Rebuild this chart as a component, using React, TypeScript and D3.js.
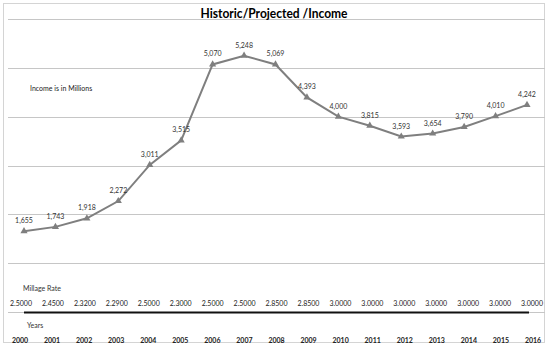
import React from "react";
import * as d3 from "d3";

const years = ["2000","2001","2002","2003","2004","2005","2006","2007","2008","2009","2010","2011","2012","2013","2014","2015","2016"];
const income = [1655,1743,1918,2272,3011,3515,5070,5248,5069,4393,4000,3815,3593,3654,3790,4010,4242];
const millage = ["2.5000","2.4500","2.3200","2.2900","2.5000","2.3000","2.5000","2.5000","2.8500","2.8500","3.0000","3.0000","3.0000","3.0000","3.0000","3.0000","3.0000"];
const gridTicks = [0,1000,2000,3000,4000,5000,6000];

const W = 548, H = 346;
const FONT = "Lato, 'Open Sans', sans-serif";

export default function App() {
  const x = d3.scalePoint<string>().domain(years).range([24, 527]);
  const xm = d3.scalePoint<string>().domain(years).range([21, 532]);
  const xy = d3.scalePoint<string>().domain(years).range([20, 533]);
  const y = d3.scaleLinear().domain([0, 6000]).range([312, 19]);
  const line = d3.line<number>().x((_, i) => x(years[i])!).y(d => y(d));
  const tri = d3.symbol().type(d3.symbolTriangle).size(22)();
  const fmt = d3.format(",");

  return (
    <svg width={W} height={H} style={{ position: "absolute", left: 0, top: 0, background: "#fff" }}>
      <rect x={3.5} y={3.5} width={541} height={339} fill="#fff" stroke="#d4d4d4" strokeWidth={1} />
      {gridTicks.map(t => (
        <line key={t} x1={8} x2={545} y1={Math.round(y(t)) + 0.5} y2={Math.round(y(t)) + 0.5} stroke="#c6c6c6" strokeWidth={1} />
      ))}
      <line x1={24} x2={529} y1={y(0) + 0.5} y2={y(0) + 0.5} stroke="#111" strokeWidth={2} />
      <text x={274} y={18} textAnchor="middle" fontFamily={FONT} fontWeight="bold" fontSize={13} fill="#000" textLength={147} lengthAdjust="spacingAndGlyphs">Historic/Projected /Income</text>
      <text x={30} y={90.5} fontFamily={FONT} fontSize={7} fill="#222">Income is in Millions</text>
      <path d={line(income) || ""} fill="none" stroke="#7f7f7f" strokeWidth={2} />
      {income.map((v, i) => (
        <g key={i}>
          <path d={tri || ""} transform={`translate(${x(years[i])},${y(v)})`} fill="#7f7f7f" />
          <text x={x(years[i])} y={y(v) - 8} textAnchor="middle" fontFamily={FONT} fontSize={7} fill="#333">{fmt(v)}</text>
        </g>
      ))}
      <text x={23} y={291} fontFamily={FONT} fontSize={7} fill="#333">Millage Rate</text>
      {millage.map((m, i) => (
        <text key={i} x={xm(years[i])} y={306} textAnchor="middle" fontFamily={FONT} fontSize={7} fill="#222">{m}</text>
      ))}
      <text x={27} y={328} fontFamily={FONT} fontSize={7} fill="#333">Years</text>
      {years.map(yr => (
        <text key={yr} x={xy(yr)} y={343} textAnchor="middle" fontFamily={FONT} fontSize={7} fontWeight="bold" fill="#222">{yr}</text>
      ))}
    </svg>
  );
}
